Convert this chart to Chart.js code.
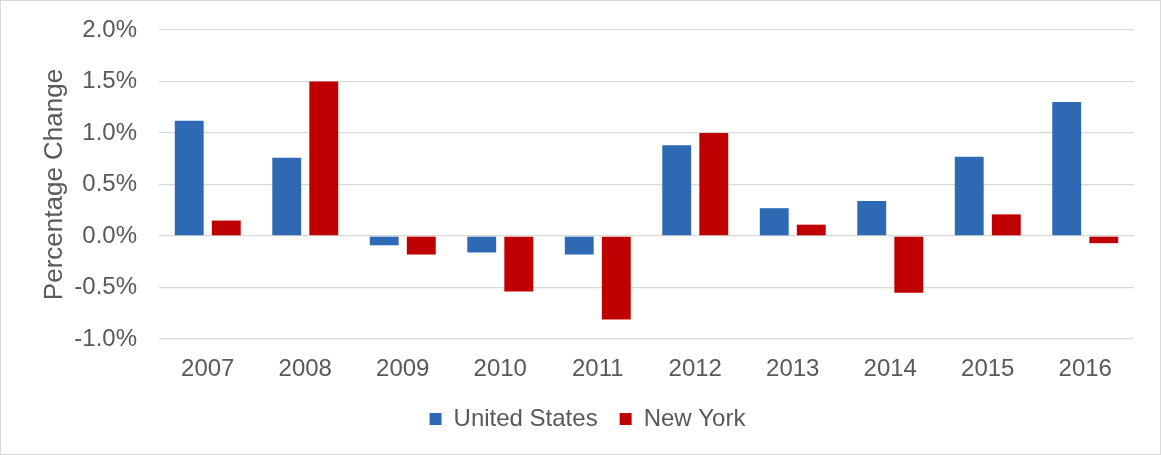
<!DOCTYPE html>
<html>
<head>
<meta charset="utf-8">
<script src="https://cdn.jsdelivr.net/npm/chart.js@4"></script>
<style>
  html, body { margin: 0; padding: 0; background: #fff; }
  #wrap {
    width: 1161px; height: 455px; box-sizing: border-box;
    border: 1px solid #d9d9d9; background: #fff;
  }
</style>
</head>
<body>
<div id="wrap"><canvas id="myChart" width="1159" height="453"></canvas></div>
<script>
// Annual percentage change, 2007-2016
let years = ['2007', '2008', '2009', '2010', '2011', '2012', '2013', '2014', '2015', '2016'];
let unitedStates = [1.12, 0.76, -0.09, -0.16, -0.18, 0.88, 0.27, 0.34, 0.77, 1.30];
let newYork = [0.15, 1.50, -0.18, -0.54, -0.81, 1.00, 0.11, -0.55, 0.21, -0.07];
let yTicks = [-1.0, -0.5, 0.0, 0.5, 1.0, 1.5, 2.0];

let textColor = '#595959';
let gridColor = '#d9d9d9';
let fontFamily = 'Liberation Sans, Arial';

// keep the axis from reserving extra room above/below the plot
function noVerticalPadding(scale) {
    scale.paddingTop = 0;
    scale.paddingBottom = 0;
}

let ctx = document.getElementById('myChart').getContext('2d');
let myChart = new Chart(ctx, {
    type: 'bar',
    data: {
        labels: years,
        datasets: [{
            label: 'United States',
            data: unitedStates,
            backgroundColor: '#2e6ab4',
            categoryPercentage: 0.76,
            barPercentage: 0.78
        }, {
            label: 'New York',
            data: newYork,
            backgroundColor: '#c00000',
            categoryPercentage: 0.76,
            barPercentage: 0.78
        }]
    },
    options: {
        responsive: false,
        animation: false,
        layout: {
            padding: { top: 29, right: 0, left: 14, bottom: 13 }
        },
        plugins: {
            tooltip: { enabled: false },
            legend: {
                position: 'bottom',
                labels: {
                    boxWidth: 12,
                    boxHeight: 12,
                    padding: 22,
                    color: textColor,
                    font: { family: fontFamily, size: 24 }
                }
            }
        },
        scales: {
            x: {
                grid: { display: false, drawTicks: false },
                border: { display: false },
                ticks: {
                    color: textColor,
                    padding: 16,
                    font: { family: fontFamily, size: 24 }
                },
                afterFit: function(scale) { scale.height = 46; }
            },
            y: {
                min: yTicks[0],
                max: yTicks[yTicks.length - 1],
                afterBuildTicks: function(scale) {
                    scale.ticks = yTicks.map(function(v) { return { value: v }; });
                },
                grid: { color: gridColor, lineWidth: 1.3, drawTicks: false },
                border: { display: false },
                ticks: {
                    color: textColor,
                    padding: 22,
                    font: { family: fontFamily, size: 24 },
                    callback: function(v) { return v.toFixed(1) + '%'; }
                },
                title: {
                    display: true,
                    text: 'Percentage Change',
                    color: textColor,
                    padding: { top: 24, bottom: 0 },
                    font: { family: fontFamily, size: 26 }
                },
                afterFit: function(scale) {
                    scale.width = 144;
                    noVerticalPadding(scale);
                }
            },
            // empty strip on the right of the plot
            yRight: {
                position: 'right',
                grid: { display: false, drawTicks: false },
                border: { display: false },
                ticks: { display: false },
                afterFit: function(scale) {
                    scale.width = 26;
                    noVerticalPadding(scale);
                }
            }
        }
    }
});
</script>
</body>
</html>
